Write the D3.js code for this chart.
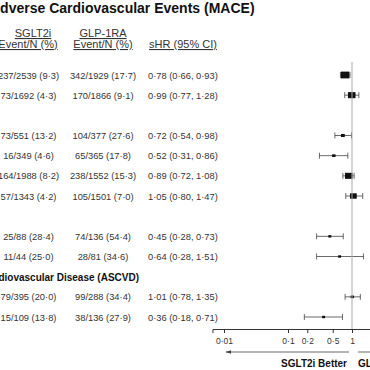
<html>
<head>
  <style>
    body { margin: 0; background: white; font-family: Arial, "Liberation Sans", Helvetica, sans-serif; }
    svg { display: block; }
    .cell { font-size: 9.3px; fill: #333; }
    .head { font-size: 11px; fill: #333; text-decoration: underline; }
    .title { font-size: 14px; font-weight: bold; fill: #111; }
    .group { font-size: 10px; font-weight: bold; fill: #111; }
  </style>
</head>
<body>
  <svg id="forest"></svg>
  <script src="https://cdn.jsdelivr.net/npm/d3@7"></script>
  <script>
    var width = 370, height = 370;

    // rows (visible part of the figure)
    var sgltText = ["237/2539 (9·3)", "73/1692 (4·3)", "73/551 (13·2)", "16/349 (4·6)",
                    "164/1988 (8·2)", "57/1343 (4·2)", "25/88 (28·4)", "11/44 (25·0)",
                    "79/395 (20·0)", "15/109 (13·8)"];
    var glpText = ["342/1929 (17·7)", "170/1866 (9·1)", "104/377 (27·6)", "65/365 (17·8)",
                   "238/1552 (15·3)", "105/1501 (7·0)", "74/136 (54·4)", "28/81 (34·6)",
                   "99/288 (34·4)", "38/136 (27·9)"];
    var hr   = [0.78, 0.99, 0.72, 0.52, 0.89, 1.05, 0.45, 0.64, 1.01, 0.36];
    var low  = [0.66, 0.77, 0.54, 0.31, 0.72, 0.80, 0.28, 0.28, 0.78, 0.18];
    var high = [0.93, 1.28, 0.98, 0.86, 1.08, 1.47, 0.73, 1.51, 1.35, 0.71];
    // marker weight (number of patients, approx)
    var weight = [4468, 3558, 928, 714, 3540, 2844, 224, 125, 683, 245];
    // row slot index (gaps hold subgroup headers)
    var slot = [0, 1, 3, 4, 5, 6, 8, 9, 11, 12];
    var groupHeads = [{slot: 10, text: "Atherosclerotic Cardiovascular Disease (ASCVD)"}];
    var tickValues = [0.01, 0.1, 0.2, 0.5, 1];

    var svg = d3.select("#forest").attr("width", width).attr("height", height);

    var rows = hr.map(function(d, i) {
      return {hr: d, lo: low[i], hi: high[i], w: weight[i], slot: slot[i],
              a: sgltText[i], b: glpText[i]};
    });

    var y = d3.scaleLinear().domain([0, 12]).range([75, 317]);
    var x = d3.scaleLog().domain([0.01, 1]).range([224, 352]);
    var size = d3.scaleSqrt().domain([0, d3.max(weight)]).range([0, 8.5]);

    // title + headers
    svg.append("text").attr("class", "title").attr("x", -10).attr("y", 13)
      .text("Adverse Cardiovascular Events (MACE)");

    var heads = [
      {x: 33, y: 37, t: "SGLT2i"}, {x: 28, y: 48, t: "Event/N (%)"},
      {x: 103, y: 37, t: "GLP-1RA"}, {x: 103, y: 48, t: "Event/N (%)"},
      {x: 183, y: 48, t: "sHR (95% CI)"}
    ];
    svg.selectAll(".head").data(heads).join("text")
      .attr("class", "head").attr("text-anchor", "middle")
      .attr("x", d => d.x).attr("y", d => d.y).text(d => d.t);

    svg.selectAll(".group").data(groupHeads).join("text")
      .attr("class", "group").attr("text-anchor", "end")
      .attr("x", 139).attr("y", d => y(d.slot) + 4)
      .text(d => d.text);

    function fmt(v) { return v.toFixed(2).replace(".", "·"); }

    var g = svg.append("g").selectAll("g").data(rows).join("g")
      .attr("transform", d => "translate(0," + y(d.slot) + ")");

    g.append("text").attr("class", "cell").attr("text-anchor", "middle")
      .attr("x", 28.5).attr("y", 3.5).text(d => d.a);
    g.append("text").attr("class", "cell").attr("text-anchor", "middle")
      .attr("x", 103).attr("y", 3.5).text(d => d.b);
    g.append("text").attr("class", "cell")
      .attr("x", 148).attr("y", 3.5)
      .text(d => fmt(d.hr) + " (" + fmt(d.lo) + ", " + fmt(d.hi) + ")");

    // reference line at 1
    svg.append("line")
      .attr("x1", x(1)).attr("x2", x(1)).attr("y1", 62).attr("y2", 329)
      .attr("stroke", "#aaa").attr("stroke-width", 1);

    // CI whiskers
    g.append("line").attr("x1", d => x(d.lo)).attr("x2", d => x(d.hi))
      .attr("stroke", "#444").attr("stroke-width", 0.8);
    g.append("line").attr("x1", d => x(d.lo)).attr("x2", d => x(d.lo))
      .attr("y1", -3).attr("y2", 3).attr("stroke", "#444").attr("stroke-width", 0.8);
    g.append("line").attr("x1", d => x(d.hi)).attr("x2", d => x(d.hi))
      .attr("y1", -3).attr("y2", 3).attr("stroke", "#444").attr("stroke-width", 0.8);
    g.append("rect")
      .attr("x", d => x(d.hr) - Math.max(size(d.w), 3) / 2)
      .attr("y", d => -Math.max(size(d.w), 3) * 0.4)
      .attr("width", d => Math.max(size(d.w), 3))
      .attr("height", d => Math.max(size(d.w), 3) * 0.8)
      .attr("fill", "#111");

    // axis
    var xAxisScale = x.copy().domain([0.0066, 2.6]).range([x(0.0066), x(2.6)]);
    var axis = svg.append("g").attr("transform", "translate(0,329)")
      .call(d3.axisBottom(xAxisScale).tickValues(tickValues).tickSizeOuter(0).tickSize(4)
        .tickFormat(d => String(d).replace("0.", "0·")));
    axis.select(".domain").attr("stroke", "#333");
    axis.selectAll(".tick line").attr("stroke", "#333");
    axis.selectAll(".tick text").attr("fill", "#333").attr("font-size", 8.5)
      .attr("font-family", "Arial, sans-serif").attr("dy", "0.9em");

    // direction arrows
    var defs = svg.append("defs");
    defs.append("marker").attr("id", "arr").attr("viewBox", "0 0 10 10")
      .attr("refX", 1).attr("refY", 5).attr("markerWidth", 6).attr("markerHeight", 6)
      .attr("markerUnits", "userSpaceOnUse")
      .append("path").attr("d", "M10,2 L0,5 L10,8 Z").attr("fill", "#444");
    svg.append("line").attr("x1", x(1) - 3).attr("x2", x(0.01) + 2)
      .attr("y1", 352).attr("y2", 352).attr("stroke", "#444").attr("stroke-width", 0.8)
      .attr("marker-end", "url(#arr)");
    svg.append("line").attr("x1", x(1) + 6).attr("x2", width + 20)
      .attr("y1", 352).attr("y2", 352).attr("stroke", "#444").attr("stroke-width", 0.8);
    svg.append("text").attr("class", "group").attr("text-anchor", "end")
      .attr("x", x(1) - 5).attr("y", 367).attr("font-size", "10.5px").text("SGLT2i Better");
    svg.append("text").attr("class", "group")
      .attr("x", x(1) + 6).attr("y", 367).attr("font-size", "10.5px").text("GLP-1RA Better");
  </script>
</body>
</html>
